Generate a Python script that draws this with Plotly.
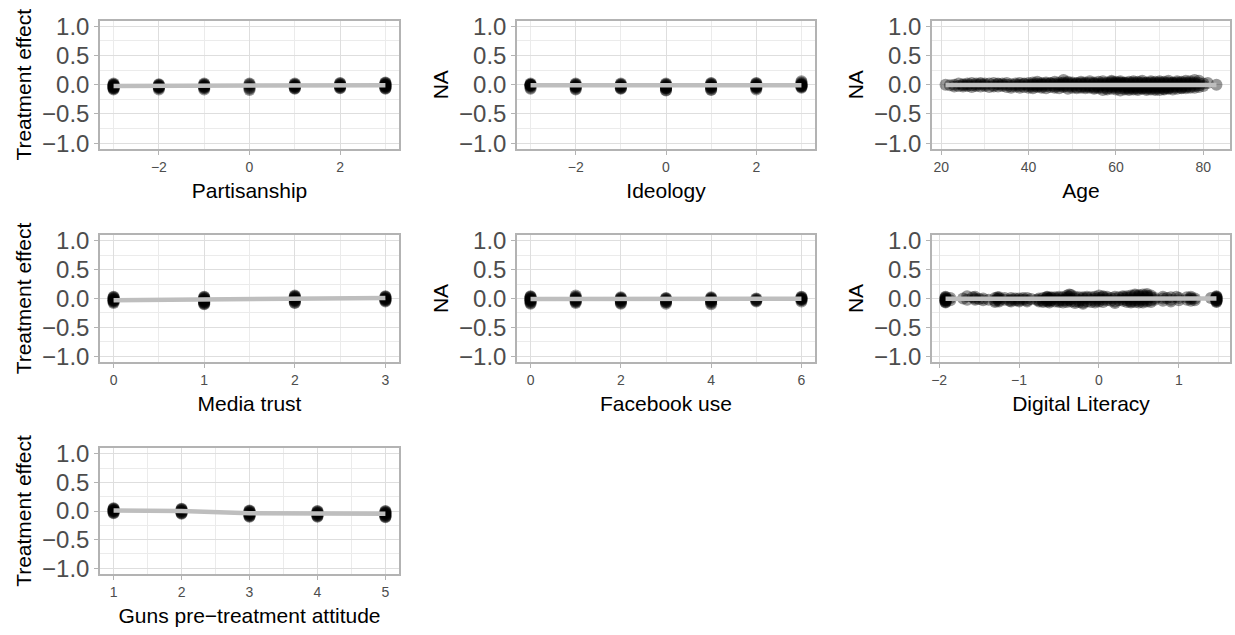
import plotly.graph_objects as go

# ---------------- data ----------------
partisanship_levels = [-3, -2, -1, 0, 1, 2, 3]
partisanship_effects = [
    [-0.08, -0.07, -0.06, -0.05, -0.04, -0.03, -0.02, -0.01, 0.0, 0.01, 0.02, -0.05, -0.03, -0.01],
    [-0.08, -0.06, -0.05, -0.04, -0.03, -0.02, -0.01, 0.0, 0.01, -0.04, -0.02],
    [-0.08, -0.06, -0.05, -0.04, -0.03, -0.02, -0.01, 0.0, 0.01, 0.02, -0.03],
    [-0.09, -0.07, -0.05, -0.03, -0.01, 0.01, 0.02],
    [-0.07, -0.06, -0.05, -0.04, -0.03, -0.02, -0.01, 0.0, 0.01, 0.02, -0.03],
    [-0.06, -0.05, -0.04, -0.03, -0.02, -0.01, 0.0, 0.01, 0.02, 0.03, -0.02],
    [-0.07, -0.06, -0.05, -0.04, -0.03, -0.02, -0.01, 0.0, 0.01, 0.02, 0.03, 0.04, -0.03, 0.0],
]
partisanship_fit = [-0.02, -0.018, -0.016, -0.014, -0.012, -0.01, -0.008]

ideology_levels = [-3, -2, -1, 0, 1, 2, 3]
ideology_effects = [
    [-0.07, -0.05, -0.03, -0.02, -0.01, 0.0, 0.01, 0.02, -0.01, 0.0],
    [-0.08, -0.07, -0.05, -0.04, -0.03, -0.02, -0.01, 0.0, 0.01, 0.02, -0.03],
    [-0.07, -0.06, -0.05, -0.04, -0.03, -0.02, -0.01, 0.0, 0.01, 0.02],
    [-0.1, -0.09, -0.07, -0.06, -0.05, -0.04, -0.03, -0.02, -0.01, 0.0, 0.01, 0.02, -0.05],
    [-0.09, -0.08, -0.06, -0.05, -0.04, -0.03, -0.02, -0.01, 0.0, 0.01, 0.02, 0.03],
    [-0.08, -0.06, -0.05, -0.04, -0.03, -0.02, -0.01, 0.0, 0.01, 0.02, 0.03, -0.03],
    [-0.05, -0.04, -0.03, -0.02, -0.01, 0.0, 0.01, 0.02, 0.04, 0.06, -0.02, 0.0],
]
ideology_fit = [-0.008, -0.01, -0.013, -0.015, -0.014, -0.012, -0.01]

age_values = [21, 22, 23, 24, 25, 26, 27, 28, 29, 30, 31, 32, 33, 34, 35, 36, 37, 38, 39, 40,
              41, 42, 43, 44, 45, 46, 47, 48, 49, 50, 51, 52, 53, 54, 55, 56, 57, 58, 59, 60,
              61, 62, 63, 64, 65, 66, 67, 68, 69, 70, 71, 72, 73, 74, 75, 76, 77, 78, 79, 80,
              81, 83]
age_effects = [
    [0.0], [-0.01], [0.0, -0.03], [0.02, -0.02], [0.01, -0.03, -0.01], [0.02, -0.02, 0.0],
    [0.03, -0.01, -0.04], [0.02, -0.02, 0.0], [0.01, -0.03, 0.03], [0.0, -0.02, 0.02], [0.02, -0.04],
    [0.03, -0.01, -0.03], [0.01, -0.03, 0.02], [-0.02, 0.02, 0.0], [0.03, -0.04, 0.0], [0.01, -0.05, -0.02],
    [0.02, -0.03, 0.0], [0.03, -0.02, 0.0, -0.05], [0.01, -0.04, 0.02], [0.03, -0.05, 0.0, -0.02],
    [0.04, -0.03, 0.01, -0.06, 0.0], [0.05, -0.04, 0.02, -0.02, 0.0], [0.03, -0.05, 0.01, -0.03, 0.0],
    [0.04, -0.02, 0.0, -0.06, 0.02], [0.02, -0.04, 0.03, -0.01], [0.05, -0.05, 0.0, -0.03, 0.02],
    [0.04, -0.06, 0.01, -0.02, 0.0], [0.08, -0.04, 0.02, -0.02, 0.04, 0.0], [0.03, -0.07, 0.0, -0.03, 0.05],
    [0.04, -0.05, 0.02, -0.02, 0.0], [0.03, -0.04, 0.0, -0.06, 0.02], [0.05, -0.05, 0.01, -0.03, 0.03],
    [0.04, -0.06, 0.02, -0.02, 0.0, -0.04], [0.06, -0.05, 0.03, -0.01, -0.03],
    [0.04, -0.07, 0.01, -0.03, 0.02, -0.05], [0.05, -0.06, 0.02, -0.02, 0.0, -0.04],
    [0.06, -0.09, 0.03, -0.01, -0.05, 0.01], [0.04, -0.06, 0.02, -0.03, 0.0, -0.08],
    [0.07, -0.07, 0.03, -0.02, 0.01, -0.04, 0.05], [0.05, -0.08, 0.02, -0.03, 0.0, -0.05, 0.03, -0.01],
    [0.06, -0.1, 0.03, -0.02, 0.01, -0.06, 0.04], [0.04, -0.08, 0.02, -0.04, 0.0, -0.06, 0.03, -0.02],
    [0.05, -0.07, 0.03, -0.03, 0.01, -0.05, -0.09], [0.06, -0.08, 0.02, -0.02, 0.0, -0.04, 0.04, -0.06],
    [0.05, -0.09, 0.03, -0.03, 0.01, -0.05, -0.07], [0.07, -0.07, 0.02, -0.02, 0.0, -0.04, 0.04, -0.06],
    [0.04, -0.09, 0.03, -0.03, 0.01, -0.05, -0.07], [0.06, -0.08, 0.02, -0.02, 0.0, -0.04, 0.04, -0.06],
    [0.05, -0.07, 0.03, -0.03, 0.01, -0.05, -0.09], [0.06, -0.09, 0.02, -0.02, 0.0, -0.04, 0.04, -0.06],
    [0.05, -0.08, 0.03, -0.03, 0.01, -0.05, -0.07], [0.07, -0.07, 0.02, -0.02, 0.0, -0.04, 0.04, -0.06],
    [0.04, -0.08, 0.03, -0.03, 0.01, -0.05], [0.06, -0.07, 0.02, -0.02, 0.0, -0.04, 0.04],
    [0.05, -0.06, 0.03, -0.03, 0.01, -0.05], [0.07, -0.06, 0.02, -0.02, 0.0, -0.04, 0.04],
    [0.06, -0.05, 0.03, -0.03, 0.01], [0.08, -0.05, 0.02, -0.02, 0.04, 0.0],
    [0.07, -0.04, 0.03, -0.01], [0.02, -0.02], [0.03], [0.0],
]
age_fit_x = [21, 83]
age_fit_y = [-0.005, -0.003]

media_levels = [0, 1, 2, 3]
media_effects = [
    [-0.08, -0.06, -0.05, -0.04, -0.03, -0.02, -0.01, 0.0, 0.01, 0.02, 0.03, -0.03],
    [-0.1, -0.09, -0.08, -0.07, -0.06, -0.05, -0.04, -0.03, -0.02, -0.01, 0.0, 0.01, 0.02, 0.03],
    [-0.08, -0.07, -0.05, -0.04, -0.03, -0.02, -0.01, 0.0, 0.01, 0.02, 0.03, 0.04, 0.05],
    [-0.05, -0.04, -0.03, -0.02, -0.01, 0.0, 0.01, 0.02, 0.03, 0.04, -0.01],
]
media_fit = [-0.03, -0.017, -0.003, 0.01]

facebook_levels = [0, 1, 2, 3, 4, 5, 6]
facebook_effects = [
    [-0.09, -0.08, -0.06, -0.05, -0.04, -0.03, -0.02, -0.01, 0.0, 0.01, 0.02, 0.03, 0.04, -0.02],
    [-0.08, -0.06, -0.05, -0.04, -0.03, -0.02, -0.01, 0.0, 0.01, 0.02, 0.03, 0.05],
    [-0.09, -0.08, -0.06, -0.05, -0.04, -0.03, -0.02, -0.01, 0.0, 0.01, 0.02],
    [-0.09, -0.07, -0.06, -0.05, -0.04, -0.03, -0.02, -0.01, 0.0, 0.01],
    [-0.1, -0.08, -0.06, -0.05, -0.04, -0.03, -0.02, -0.01, 0.0, 0.01, 0.02],
    [-0.05, -0.04, -0.03, -0.02, -0.01, 0.0],
    [-0.05, -0.03, -0.02, -0.01, 0.0, 0.01, 0.02, 0.03, -0.01],
]
facebook_fit = [-0.01, -0.012, -0.014, -0.015, -0.014, -0.01, -0.005]

literacy_values = [-1.92, -1.86, -1.7, -1.65, -1.58, -1.55, -1.5, -1.45, -1.38, -1.3, -1.27, -1.25,
                   -1.18, -1.12, -1.1, -1.05, -1.0, -0.95, -0.9, -0.85, -0.78, -0.75, -0.7,
                   -0.65, -0.62, -0.6, -0.55, -0.5, -0.45, -0.4, -0.37, -0.35, -0.3, -0.25, -0.2,
                   -0.15, -0.1, -0.05, 0.0, 0.05, 0.1, 0.15, 0.2, 0.25, 0.3, 0.35, 0.4, 0.45,
                   0.5, 0.55, 0.6, 0.65, 0.7, 0.8, 0.85, 0.9, 0.97, 1.0, 1.1, 1.15, 1.2, 1.4, 1.47]
literacy_effects = [
    [-0.07, -0.05, -0.04, -0.03, -0.02, -0.01, 0.0, 0.01, 0.02, -0.03, 0.03, -0.06],
    [0.01, -0.03],
    [0.0],
    [0.04, -0.02],
    [0.02],
    [0.03, -0.02, 0.0],
    [-0.01],
    [0.0, -0.03],
    [-0.02],
    [-0.04, 0.01, -0.06],
    [0.02, -0.01],
    [0.02, -0.03, 0.0, -0.05],
    [-0.02, 0.01],
    [-0.04],
    [-0.02, 0.01, -0.05],
    [0.0, -0.03],
    [0.0, -0.03, -0.05],
    [0.01, -0.02],
    [-0.03, 0.01, -0.05],
    [-0.01],
    [-0.02],
    [-0.05, 0.0, -0.03],
    [0.01, -0.04, -0.06],
    [0.02, -0.03, -0.01, 0.01, -0.05, 0.03],
    [-0.04, 0.0, -0.07],
    [-0.04, 0.02, -0.02, 0.01],
    [-0.05, 0.0, 0.02],
    [-0.06, 0.01, -0.02, -0.04, 0.03],
    [0.02, -0.03, -0.07],
    [0.05, -0.03, 0.02, -0.06, 0.0],
    [0.07, 0.03, -0.02],
    [0.06, -0.01, -0.05],
    [-0.05, 0.03, 0.0, -0.08],
    [0.02, -0.03, -0.06],
    [-0.07, 0.02, -0.03, 0.0, -0.09],
    [0.01, -0.05, 0.03],
    [-0.02, -0.06, 0.02],
    [0.03, -0.04, 0.0, -0.07],
    [0.05, -0.02, 0.01, -0.05],
    [0.04, -0.02, -0.06, 0.02],
    [0.03, -0.03, 0.0],
    [-0.04, 0.01],
    [-0.05, 0.0, 0.03, -0.08],
    [0.02, -0.03],
    [0.02, -0.04, 0.04, -0.01],
    [-0.06, 0.01, 0.04, -0.03],
    [0.05, -0.02, -0.05, 0.02, -0.07],
    [0.05, -0.03, 0.0, -0.06, 0.07],
    [0.06, -0.04, 0.02, -0.01, -0.07, 0.04],
    [-0.07, 0.04, -0.01, 0.07, -0.04],
    [0.05, -0.05, 0.01, 0.03, -0.02, 0.08],
    [0.02, -0.03, 0.05, -0.06],
    [0.01, -0.02],
    [0.03, -0.04, 0.0],
    [0.01],
    [0.02, -0.02, -0.05],
    [0.03],
    [0.01, -0.03],
    [-0.02, 0.02],
    [0.03, -0.01, -0.04, 0.01],
    [0.0, -0.03],
    [0.01],
    [-0.06, -0.05, -0.04, -0.03, -0.02, -0.01, 0.0, 0.01, 0.02, 0.03, 0.04, -0.03, 0.01],
]
literacy_fit_x = [-1.92, 1.47]
literacy_fit_y = [-0.005, 0.0]

guns_levels = [1, 2, 3, 4, 5]
guns_effects = [
    [-0.04, -0.03, -0.02, -0.01, 0.0, 0.01, 0.02, 0.03, 0.04, 0.05, 0.01],
    [-0.05, -0.04, -0.03, -0.02, -0.01, 0.0, 0.01, 0.02, 0.03, 0.04],
    [-0.1, -0.09, -0.08, -0.07, -0.06, -0.05, -0.04, -0.03, -0.02, -0.01, 0.0, 0.01],
    [-0.1, -0.09, -0.08, -0.07, -0.06, -0.05, -0.04, -0.03, -0.02, -0.01, 0.0],
    [-0.11, -0.1, -0.09, -0.08, -0.07, -0.06, -0.05, -0.04, -0.03, -0.02, -0.01, 0.0],
]
guns_fit = [0.01, 0.0, -0.04, -0.05, -0.05]

y_ticks = [-1.0, -0.5, 0.0, 0.5, 1.0]
y_ticktext = ["\u22121.0", "\u22120.5", "0.0", "0.5", "1.0"]
y_minor = [-0.75, -0.25, 0.25, 0.75]


def flatten(levels, effects):
    xs, ys = [], []
    for lv, eff in zip(levels, effects):
        for e in eff:
            xs.append(lv)
            ys.append(e)
    return xs, ys


def fmt(v):
    s = ("%g" % v)
    return s.replace("-", "\u2212")


panels = [
    dict(title="Partisanship", ytitle="Treatment effect", pts=flatten(partisanship_levels, partisanship_effects),
         fit=(partisanship_levels, partisanship_fit), major=[-2, 0, 2], minor=[-3, -1, 1, 3]),
    dict(title="Ideology", ytitle="NA", pts=flatten(ideology_levels, ideology_effects),
         fit=(ideology_levels, ideology_fit), major=[-2, 0, 2], minor=[-3, -1, 1, 3]),
    dict(title="Age", ytitle="NA", pts=flatten(age_values, age_effects),
         fit=(age_fit_x, age_fit_y), major=[20, 40, 60, 80], minor=[30, 50, 70]),
    dict(title="Media trust", ytitle="Treatment effect", pts=flatten(media_levels, media_effects),
         fit=(media_levels, media_fit), major=[0, 1, 2, 3], minor=[0.5, 1.5, 2.5]),
    dict(title="Facebook use", ytitle="NA", pts=flatten(facebook_levels, facebook_effects),
         fit=(facebook_levels, facebook_fit), major=[0, 2, 4, 6], minor=[1, 3, 5]),
    dict(title="Digital Literacy", ytitle="NA", pts=flatten(literacy_values, literacy_effects),
         fit=(literacy_fit_x, literacy_fit_y), major=[-2, -1, 0, 1], minor=[-1.5, -0.5, 0.5, 1.5]),
    dict(title="Guns pre\u2212treatment attitude", ytitle="Treatment effect", pts=flatten(guns_levels, guns_effects),
         fit=(guns_levels, guns_fit), major=[1, 2, 3, 4, 5], minor=[1.5, 2.5, 3.5, 4.5]),
]

W, H = 1235, 635
col_px = [(100, 399), (517, 815), (932, 1230)]
row_px = [(20.5, 149), (235, 362), (448, 574)]

FONT = "Liberation Sans, Arial, sans-serif"
GRID = "#DEDEDE"
MINOR = "#EBEBEB"
BORDER = "#B3B3B3"
TICKC = "#4D4D4D"

fig = go.Figure()
layout = dict(
    width=W, height=H, margin=dict(l=0, r=0, t=0, b=0),
    paper_bgcolor="white", plot_bgcolor="white", showlegend=False,
    font=dict(family=FONT, color="black"),
)

for i, p in enumerate(panels):
    r, c = divmod(i, 3)
    n = "" if i == 0 else str(i + 1)
    xs, ys = p["pts"]
    lo, hi = min(xs), max(xs)
    pad = (hi - lo) * 0.05
    fig.add_trace(go.Scatter(x=xs, y=ys, mode="markers", xaxis="x" + n, yaxis="y" + n,
                             marker=dict(color="rgba(0,0,0,0.4)", size=12, line=dict(width=0)),
                             hoverinfo="skip"))
    fig.add_trace(go.Scatter(x=p["fit"][0], y=p["fit"][1], mode="lines", xaxis="x" + n, yaxis="y" + n,
                             line=dict(color="#BEBEBE", width=4.5), hoverinfo="skip"))
    x0, x1 = col_px[c]
    yt, yb = row_px[r]
    layout["xaxis" + n] = dict(
        domain=[x0 / W, x1 / W], anchor="y" + n, range=[lo - pad, hi + pad],
        tickvals=p["major"], ticktext=[fmt(v) for v in p["major"]],
        showgrid=True, gridcolor=GRID, gridwidth=1, zeroline=False,
        minor=dict(tickvals=p["minor"], showgrid=True, gridcolor=MINOR, gridwidth=1, ticks=""),
        showline=True, mirror=True, linecolor=BORDER, linewidth=1.5,
        ticks="outside", ticklen=4, tickcolor=BORDER, tickwidth=1,
        tickfont=dict(size=14, color=TICKC, family=FONT),
        title=dict(text=p["title"], font=dict(size=21, color="black", family=FONT), standoff=10),
        automargin=False, fixedrange=True,
    )
    layout["yaxis" + n] = dict(
        domain=[1 - yb / H, 1 - yt / H], anchor="x" + n, range=[-1.1, 1.1],
        tickvals=y_ticks, ticktext=y_ticktext,
        showgrid=True, gridcolor=GRID, gridwidth=1, zeroline=False,
        minor=dict(tickvals=y_minor, showgrid=True, gridcolor=MINOR, gridwidth=1, ticks=""),
        showline=True, mirror=True, linecolor=BORDER, linewidth=1.5,
        ticks="outside", ticklen=4, tickcolor=BORDER, tickwidth=1,
        tickfont=dict(size=24, color=TICKC, family=FONT),
        title=dict(text=p["ytitle"], font=dict(size=21, color="black", family=FONT), standoff=5),
        automargin=False, fixedrange=True,
    )

fig.update_layout(**layout)
fig.write_html("out.html")
